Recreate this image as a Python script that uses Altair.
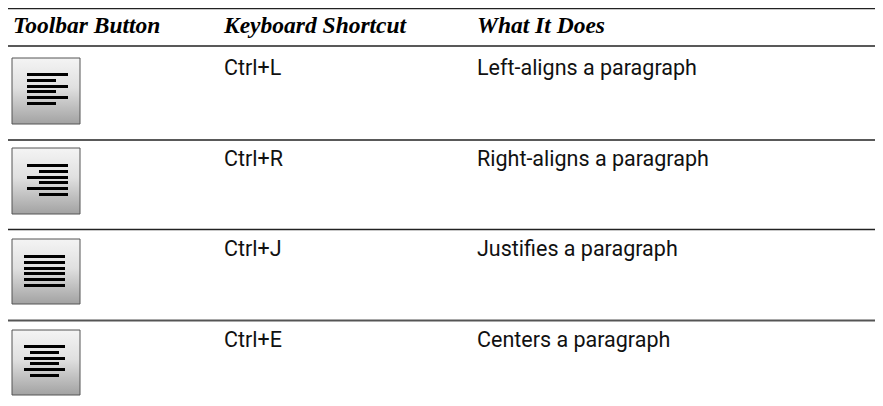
import altair as alt
import pandas as pd

W, H = 867, 398
headers = ["Toolbar Button", "Keyboard Shortcut", "What It Does"]
header_x = [13, 224, 477]
shortcuts = ["Ctrl+L", "Ctrl+R", "Ctrl+J", "Ctrl+E"]
actions = ["Left-aligns a paragraph", "Right-aligns a paragraph", "Justifies a paragraph", "Centers a paragraph"]
text_y = [75, 166, 256, 347]
btn_top = [58, 148, 239, 330]
btn_bottom = [124, 214, 304, 395]
rule_y = [8.5, 46, 140, 229.5, 320.5]
rule_w = [1.5, 1.5, 1.5, 1.5, 2]
rule_c = ["#222222", "#222222", "#222222", "#222222", "#555555"]
line_y = [
    [74.5, 80.5, 86.5, 91.5, 97.5, 103.5],
    [165.5, 171.5, 177.5, 182.5, 188.5, 194.5],
    [256.5, 262.5, 268.5, 273.5, 279.5, 285.5],
    [346.5, 352.5, 358.5, 363.5, 369.5, 375.5],
]
line_x1 = [
    [27, 27, 27, 27, 27, 27],
    [27, 39, 27, 39, 27, 39],
    [24, 24, 24, 24, 24, 24],
    [24, 30, 24, 30, 24, 30],
]
line_x2 = [
    [68, 56, 68, 56, 68, 56],
    [68, 68, 68, 68, 68, 68],
    [65, 65, 65, 65, 65, 65],
    [65, 59, 65, 59, 65, 59],
]

X = alt.Scale(domain=[8, 8 + W], range=[0, W], nice=False, zero=False)
Y = alt.Scale(domain=[8, 8 + H], range=[0, H], nice=False, zero=False)
xe = alt.X("x:Q", scale=X, axis=None)
ye = alt.Y("y:Q", scale=Y, axis=None)

rules = pd.DataFrame({"x": 8, "x2": 8 + W, "y": rule_y, "w": rule_w, "c": rule_c})
rule_layer = alt.Chart(rules).mark_rule().encode(
    x=xe, x2="x2:Q", y=ye,
    strokeWidth=alt.StrokeWidth("w:Q", scale=None),
    color=alt.Color("c:N", scale=None),
)

btns = pd.DataFrame({"x": 12, "x2": 80, "y": btn_top, "y2": btn_bottom})
gradient = alt.LinearGradient(
    gradient="linear", x1=0, x2=0, y1=0, y2=1,
    stops=[alt.GradientStop(offset=0, color="#f4f4f4"),
           alt.GradientStop(offset=0.45, color="#e0e0e0"),
           alt.GradientStop(offset=1, color="#a2a2a2")],
)
btn_layer = alt.Chart(btns).mark_rect(color=gradient, stroke="#555555", strokeWidth=1).encode(
    x=xe, x2="x2:Q", y=ye, y2="y2:Q"
)

lines = pd.DataFrame(
    [{"x": a, "x2": b, "y": y}
     for ys, x1s, x2s in zip(line_y, line_x1, line_x2)
     for y, a, b in zip(ys, x1s, x2s)]
)
line_layer = alt.Chart(lines).mark_rule(color="#000000", strokeWidth=3).encode(
    x=xe, x2="x2:Q", y=ye
)

head = pd.DataFrame({"x": header_x, "y": 33, "t": headers})
head_layer = alt.Chart(head).mark_text(
    align="left", baseline="alphabetic", font="Liberation Serif",
    fontStyle="italic", fontWeight="bold", fontSize=23.5, color="#000000",
).encode(x=xe, y=ye, text="t:N")

body = pd.DataFrame({
    "x": [224] * 4 + [477] * 4,
    "y": text_y * 2,
    "t": shortcuts + actions,
})
body_layer = alt.Chart(body).mark_text(
    align="left", baseline="alphabetic", font="Roboto", fontSize=21.5, color="#111111",
).encode(x=xe, y=ye, text="t:N")

chart = (
    alt.layer(rule_layer, btn_layer, line_layer, head_layer, body_layer)
    .properties(width=W, height=H, padding=0, autosize=alt.AutoSizeParams(type="none"))
    .configure_view(stroke=None)
)
chart.save("out.html", embed_options={"renderer": "svg", "actions": False})
